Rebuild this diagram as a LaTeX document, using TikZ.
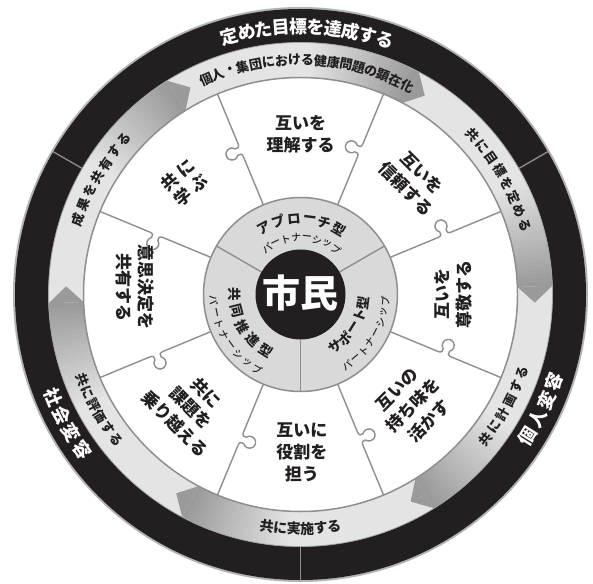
\documentclass[tikz,border=0pt]{standalone}
\usepackage{fontspec}
\newfontfamily\jpb{Noto Sans CJK JP Black}
\newfontfamily\jpbb{Noto Sans CJK JP Bold}
\newfontfamily\jpr{Noto Sans CJK JP Medium}
\definecolor{ringblack}{HTML}{231F20}
\definecolor{bandlight}{HTML}{E4E4E5}
\definecolor{banddark}{HTML}{9A9A9B}
\definecolor{lineg}{HTML}{8E8E8F}
\definecolor{innerg}{HTML}{D9D9DA}
\definecolor{outlineg}{HTML}{B4B4B4}
\tikzset{
  ringtxt/.style={font=\jpb\fontsize{18}{18}\selectfont, text=white, inner sep=0pt},
  bandtxt/.style={font=\jpb\fontsize{13}{13}\selectfont, text=ringblack, inner sep=0pt},
  bandtxtb/.style={font=\jpb\fontsize{14}{14}\selectfont, text=ringblack, inner sep=0pt},
  typetxt/.style={font=\jpb\fontsize{13.5}{13.5}\selectfont, text=ringblack, inner sep=0pt},
  subtxt/.style={font=\jpr\fontsize{10}{10}\selectfont, text=ringblack, inner sep=0pt},
  piecetxt/.style={font=\jpb\fontsize{17}{22}\selectfont, text=ringblack, align=center, inner sep=0pt},
  puzzleline/.style={draw=lineg, line width=1.4pt},
}
% #1 radius, #2 centre angle, #3 pitch (deg), #4 number of chars, #5 style, #6 list, #7 name prefix
\newcommand\ArcTextCW[7]{%
  \foreach \ch [count=\i] in {#6}{%
    \pgfmathsetmacro\ang{#2+(#4+1)/2*#3-\i*#3}%
    \node[#5, rotate=\ang-90] (#7\i) at (\ang:#1) {\ch};%
  }}
\newcommand\ArcTextCCW[7]{%
  \foreach \ch [count=\i] in {#6}{%
    \pgfmathsetmacro\ang{#2-(#4+1)/2*#3+\i*#3}%
    \node[#5, rotate=\ang+90] (#7\i) at (\ang:#1) {\ch};%
  }}
\begin{document}
\begin{tikzpicture}[x=1pt,y=1pt]
\useasboundingbox (-300.5,-288.5) rectangle (292.5,294.5);
\fill[white] (-300.5,-288.5) rectangle (292.5,294.5);
% outer black ring
\fill[outlineg] (0,0) circle[radius=287.5];
\fill[ringblack] (0,0) circle[radius=285.5];
% band
\fill[bandlight] (0,0) circle[radius=252];
\foreach \T in {-2,58,118,178,238,298}{
  \foreach \j in {0,...,24}{
    \pgfmathsetmacro\a{\T+4+\j}
    \pgfmathsetmacro\b{\a+1.2}
    \pgfmathsetmacro\f{100*(1-\j/25)}
    \fill[banddark!\f!bandlight] (\a:217) arc[start angle=\a,end angle=\b,radius=217]
      -- (\b:252) arc[start angle=\b,end angle=\a,radius=252] -- cycle;
  }
  \fill[banddark] ({\T+4}:252) -- (\T:234.5) -- ({\T+4}:217) -- cycle;
}
\draw[lineg!80, line width=0.8pt] (0,0) circle[radius=252];
\foreach \a in {30,150,270}{
  \draw[lineg, line width=1.3pt] (\a:252) -- (\a:286);
}
% puzzle area
\filldraw[fill=white, draw=lineg, line width=1.5pt] (0,0) circle[radius=217];
\foreach \a in {22.5,67.5,112.5,157.5,202.5,247.5,292.5,337.5}{
  \draw[puzzleline, rotate=\a] (97,0) -- (149,0)
    .. controls (152.5,0) and (153.5,2) .. (152.56,4.59)
    arc[start angle=235,end angle=-55,radius=6]
    .. controls (158.5,2) and (159.5,0) .. (163,0) -- (217,0);
}
% inner ring
\filldraw[fill=innerg, draw=lineg, line width=1.5pt] (0,0) circle[radius=97];
\foreach \a in {30,150,270}{
  \draw[lineg, line width=1.4pt] (\a:45) -- (\a:97);
}
\fill[ringblack] (0,0) circle[radius=45];
\node[font=\jpb\fontsize{38}{38}\selectfont, text=white, inner sep=0pt] (shimin) at (0,1) {市民};
% black ring texts
\ArcTextCW{268}{88.5}{3.75}{10}{ringtxt}{定,め,た,目,標,を,達,成,す,る}{ta}
\ArcTextCCW{268}{-25.5}{4.3}{4}{ringtxt}{個,人,変,容}{tb}
\ArcTextCCW{268}{-151}{4.3}{4}{ringtxt}{社,会,変,容}{tc}
% band texts
\ArcTextCW{234.5}{88.3}{3.18}{17}{bandtxt}{個,人,・,集,団,に,お,け,る,健,康,問,題,の,顕,在,化}{ba}
\ArcTextCW{234.5}{30}{3.66}{8}{bandtxt}{共,に,目,標,を,定,め,る}{bb}
\ArcTextCCW{235}{-28.7}{3.72}{6}{bandtxt}{共,に,計,画,す,る}{bc}
\ArcTextCCW{234.5}{-90}{3.3}{6}{bandtxtb}{共,に,実,施,す,る}{bd}
\ArcTextCCW{234.5}{-150.3}{3.38}{6}{bandtxt}{共,に,評,価,す,る}{be}
\ArcTextCW{234.5}{150}{3.78}{7}{bandtxt}{成,果,を,共,有,す,る}{bf}
% inner ring texts
\ArcTextCW{76}{89}{11.8}{6}{typetxt}{ア,プ,ロ,ー,チ,型}{ia}
\ArcTextCW{57}{89}{10.6}{8}{subtxt}{パ,ー,ト,ナ,ー,シ,ッ,プ}{ib}
\ArcTextCCW{63}{-32}{12.2}{5}{typetxt}{サ,ポ,ー,ト,型}{ic}
\ArcTextCCW{85}{-30.5}{7.5}{8}{subtxt}{パ,ー,ト,ナ,ー,シ,ッ,プ}{id}
\ArcTextCCW{66}{-151}{14.5}{5}{typetxt}{共,同,推,進,型}{ie}
\ArcTextCCW{87}{-148}{8}{8}{subtxt}{パ,ー,ト,ナ,ー,シ,ッ,プ}{if}
% puzzle texts
\node[piecetxt] (p1) at (90:160) {互いを\\理解する};
\node[piecetxt, rotate=-45] (p2) at (45:160) {互いを\\信頼する};
\node[piecetxt, rotate=90] (p3) at (0:152.5) {互いを\\尊敬する};
\node[piecetxt, rotate=45] (p4) at (-44.5:158) {互いの\\持ち味を\\活かす};
\node[piecetxt] (p5) at (-89.5:157.5) {互いに\\役割を\\担う};
\node[piecetxt, rotate=-45] (p6) at (-134:158) {共に\\課題を\\乗り越える};
\node[piecetxt, rotate=-90] (p7) at (177.5:165.5) {意思決定を\\共有する};
\node[piecetxt, rotate=40, font=\jpb\fontsize{17}{20}\selectfont] (p8) at (136:161) {共\hspace{4pt}に\\学\hspace{4pt}ぶ};
\end{tikzpicture}
\end{document}
